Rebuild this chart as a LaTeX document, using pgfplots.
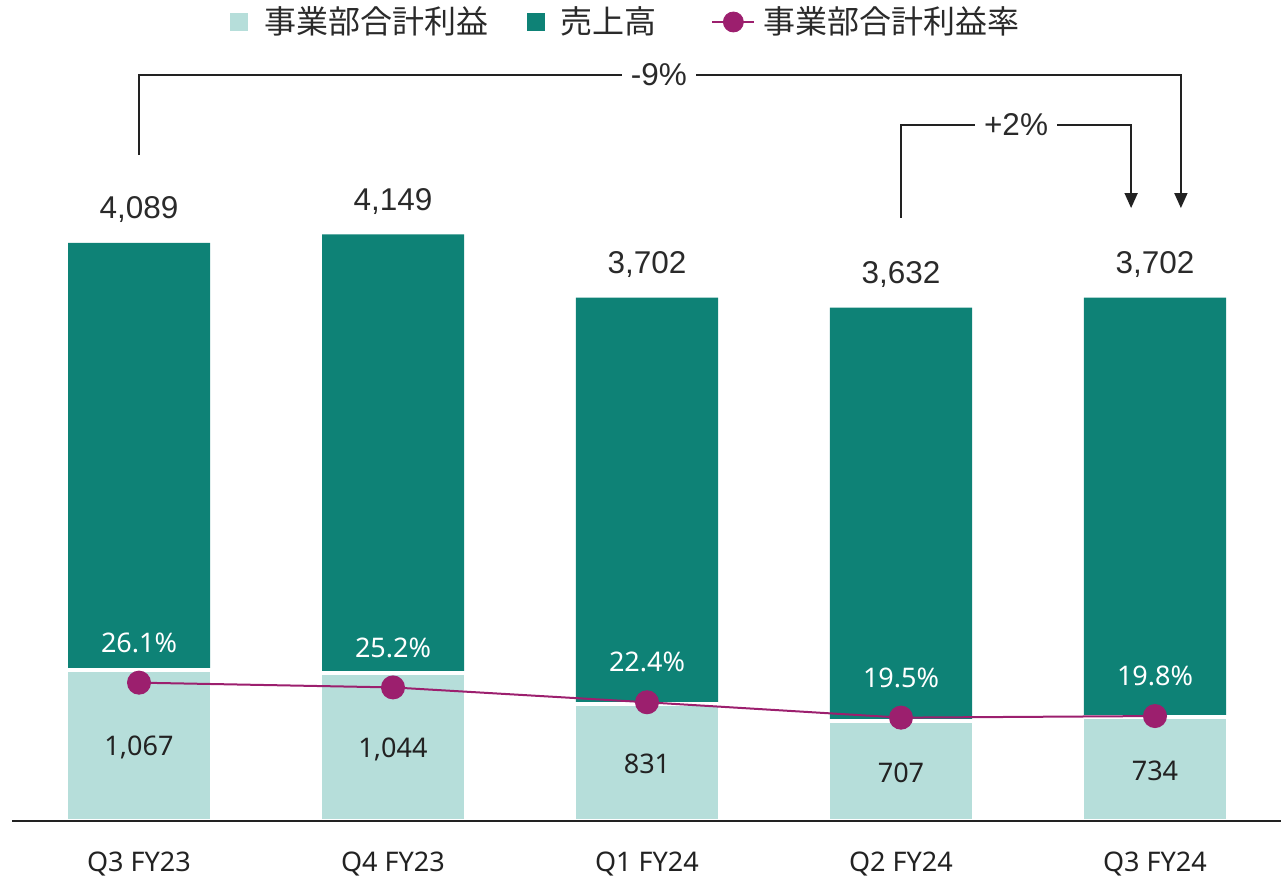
\documentclass[border=0pt]{standalone}
\usepackage{pgfplots}
\pgfplotsset{compat=1.18}
\usepackage{pgfplotstable}
\usetikzlibrary{arrows.meta}
\usepackage{fontspec}
\setmainfont{Noto Sans}
\newfontfamily\arialf{Liberation Sans}
\newfontfamily\cjk{Noto Sans CJK JP}
\definecolor{darkteal}{HTML}{0E8276}
\definecolor{lightteal}{HTML}{B6DEDA}
\definecolor{plum}{HTML}{9C1F6E}
\definecolor{txt}{HTML}{222222}
\definecolor{txtb}{HTML}{2A2A2A}

\pgfplotstableread{
x sales profit margin
0 4089 1067 26.1
1 4149 1044 25.2
2 3702 831 22.4
3 3632 707 19.5
4 3702 734 19.8
}\data

\begin{document}
\begin{tikzpicture}
\path[use as bounding box] (0,0) rectangle (640.5pt,441.5pt);
\begin{axis}[
  at={(6pt,31pt)}, anchor=south west,
  width=635pt, height=410.5pt, scale only axis,
  xmin=-0.5, xmax=4.5, ymin=0, ymax=5808,
  axis y line=none, axis x line*=bottom,
  x axis line style={-, line width=0.75pt, color=txt},
  axis on top,
  clip=false,
  xtick={0,1,2,3,4},
  xticklabels={Q3 FY23,Q4 FY23,Q1 FY24,Q2 FY24,Q3 FY24},
  major tick length=0pt,
  xticklabel style={font=\fontsize{13.5}{16}\selectfont, text=txt, anchor=base, yshift=-25.5pt},
  /pgf/number format/1000 sep={,},
  legend style={at={(axis description cs:0.17165,0.9732)}, anchor=west,
    draw=none, fill=none, legend columns=3,
    font=\cjk\fontsize{16}{19}\selectfont, text=txtb,
    inner sep=0pt, nodes={inner sep=0pt},
    /tikz/every odd column/.append style={column sep=4pt},
    /tikz/every even column/.append style={column sep=19.5pt}},
]
\addplot[ybar, bar width=71pt, bar shift=0pt, fill=darkteal, draw=none, forget plot]
  table[x=x,y=sales]{\data};
\addplot[ybar, bar width=73pt, bar shift=0pt, fill=lightteal, draw=white, line width=2pt, forget plot]
  table[x=x,y=profit]{\data};
% sales labels
\addplot[draw=none, mark=none, forget plot, point meta=y,
  nodes near coords={\pgfmathprintnumber[assume math mode=true]{\pgfplotspointmeta}},
  nodes near coords style={font=\arialf\fontsize{15.75}{18}\selectfont, text=txtb, anchor=base, yshift=12pt}]
  table[x=x,y=sales]{\data};
% profit labels
\addplot[draw=none, mark=none, forget plot, point meta=explicit,
  nodes near coords={\pgfmathprintnumber[assume math mode=true]{\pgfplotspointmeta}},
  nodes near coords style={font=\fontsize{13.5}{16}\selectfont, text=txt, anchor=center, yshift=-1pt}]
  table[x=x,y expr=\thisrow{profit}/2,meta=profit]{\data};
% annotations
\draw[line width=0.8pt, color=txt, -{Triangle[width=6.5pt,length=7.5pt]}]
  (axis cs:0,4711) |- (axis cs:4.102,5277) -- (axis cs:4.102,4336);
\node[fill=white, inner xsep=4.5pt, inner ysep=1pt, font=\arialf\fontsize{15.75}{18}\selectfont, text=txtb]
  at (axis cs:2.047,5277) {-9\%};
\draw[line width=0.8pt, color=txt, -{Triangle[width=6.5pt,length=7.5pt]}]
  (axis cs:3,4266) |- (axis cs:3.906,4924) -- (axis cs:3.906,4336);
\node[fill=white, inner xsep=4.5pt, inner ysep=1pt, font=\arialf\fontsize{15.75}{18}\selectfont, text=txtb]
  at (axis cs:3.453,4924) {+2\%};
% legend
\addlegendimage{legend image code/.code={\fill[lightteal] (0pt,-4.25pt) rectangle (8.5pt,4.25pt); \path (12.5pt,0pt);}}
\addlegendentry{事業部合計利益}
\addlegendimage{legend image code/.code={\fill[darkteal] (0pt,-4.25pt) rectangle (8.5pt,4.25pt); \path (12.5pt,0pt);}}
\addlegendentry{売上高}
\addlegendimage{legend image code/.code={\path (-8pt,0pt); \draw[plum,line width=1pt] (0pt,0pt)--(21pt,0pt); \fill[plum] (10.5pt,0pt) circle (5pt);}}
\addlegendentry{事業部合計利益率}
\end{axis}
\begin{axis}[
  at={(6pt,31pt)}, anchor=south west,
  width=635pt, height=410.5pt, scale only axis,
  xmin=-0.5, xmax=4.5, ymin=0, ymax=154.9,
  hide axis, clip=false,
]
\addplot[plum, line width=1pt, mark=*, mark size=5.5pt, mark options={fill=plum, draw=plum},
  point meta=y,
  nodes near coords={\pgfmathprintnumber[fixed,fixed zerofill,precision=1,assume math mode=true]{\pgfplotspointmeta}\%},
  nodes near coords style={text=white, font=\fontsize{13.5}{16}\selectfont, anchor=center, yshift=20pt}]
  table[x=x,y=margin]{\data};
\end{axis}
\end{tikzpicture}
\end{document}
